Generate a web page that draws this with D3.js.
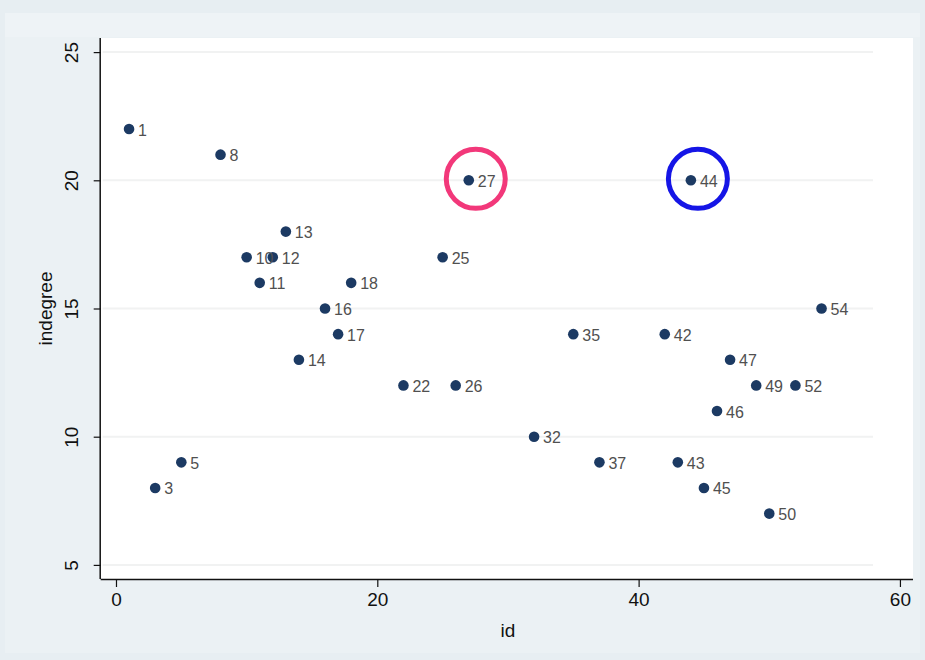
<!DOCTYPE html>
<html>
<head>
<meta charset="utf-8">
<script src="https://cdn.jsdelivr.net/npm/d3@7"></script>
<style>
  html, body { margin: 0; padding: 0; background: #e7eef2; }
  svg { display: block; }
</style>
</head>
<body>
<svg id="chart" width="925" height="660"></svg>
<script>
// Node ids and their in-degree
const ids      = [1, 8, 27, 44, 13, 10, 12, 25, 11, 18, 16, 54, 17, 35, 42, 14, 47, 22, 26, 49, 52, 46, 32, 5, 37, 43, 3, 45, 50];
const indegree = [22, 21, 20, 20, 18, 17, 17, 17, 16, 16, 15, 15, 14, 14, 14, 13, 13, 12, 12, 12, 12, 11, 10, 9, 9, 9, 8, 8, 7];
const xTicks = [0, 20, 40, 60];
const yTicks = [5, 10, 15, 20, 25];
// Nodes singled out with a ring
const ringIds    = [27, 44];
const ringColors = ["#f2387a", "#1515e6"];

const points = ids.map((id, i) => ({ id, v: indegree[i] }));

const svg = d3.select("#chart");
const W = 925, H = 660;
const plot = { left: 100.7, right: 913, top: 38, bottom: 579 };

// Outer graph region
svg.append("rect").attr("x", 0).attr("y", 0).attr("width", W).attr("height", H).attr("fill", "#e7eef2");
svg.append("rect").attr("x", 5).attr("y", 13).attr("width", 915).attr("height", 640).attr("fill", "#ebf1f4");
svg.append("rect").attr("x", 5).attr("y", 13).attr("width", 915).attr("height", 24).attr("fill", "#eef3f6");

const x = d3.scaleLinear().domain([-1.17, 61]).range([plot.left, plot.right]);
const y = d3.scaleLinear().domain([4.45, 25.55]).range([plot.bottom, plot.top]);

// Plot area
svg.append("rect")
  .attr("x", plot.left).attr("y", plot.top)
  .attr("width", plot.right - plot.left).attr("height", plot.bottom - plot.top)
  .attr("fill", "#ffffff");

// Faint horizontal gridlines
svg.append("g").selectAll("line").data(yTicks).join("line")
  .attr("x1", plot.left + 2).attr("x2", plot.right - 40)
  .attr("y1", d => y(d)).attr("y2", d => y(d))
  .attr("stroke", "#f1f2f2").attr("stroke-width", 2);

// Axes
const fontAxis = "'Liberation Sans', Arial, sans-serif";
const xAxis = svg.append("g")
  .attr("transform", `translate(0,${plot.bottom})`)
  .call(d3.axisBottom(x).tickValues(xTicks).tickSize(8).tickPadding(6).tickFormat(d3.format("d")));
xAxis.select(".domain").attr("stroke", "#111").attr("stroke-width", 1.5)
  .attr("d", `M${plot.left},0.5H${plot.right}`);
xAxis.selectAll(".tick line").attr("stroke", "#111").attr("stroke-width", 1.2);
xAxis.selectAll(".tick text").attr("font-family", fontAxis).attr("font-size", 19).attr("fill", "#111")
  .attr("dy", "0.71em");

const yAxis = svg.append("g")
  .attr("transform", `translate(${plot.left},0)`)
  .call(d3.axisLeft(y).tickValues(yTicks).tickSize(7).tickFormat(d3.format("d")));
yAxis.select(".domain").attr("stroke", "#111").attr("stroke-width", 1.5)
  .attr("d", `M-0.5,${plot.top}V${plot.bottom}`);
yAxis.selectAll(".tick line").attr("stroke", "#111").attr("stroke-width", 1.2);
yAxis.selectAll(".tick text")
  .attr("font-family", fontAxis).attr("font-size", 19).attr("fill", "#111")
  .attr("text-anchor", "middle").attr("x", 0).attr("dy", 0)
  .attr("transform", "translate(-29,0) rotate(-90)")
  .attr("dominant-baseline", "central");

// Axis titles
svg.append("text").attr("x", (x(0) + x(60)) / 2 + 0).attr("y", 637)
  .attr("text-anchor", "middle").attr("font-family", fontAxis).attr("font-size", 19).attr("fill", "#111")
  .text("id");
svg.append("text")
  .attr("transform", `translate(45,${y(15)}) rotate(-90)`)
  .attr("text-anchor", "middle").attr("font-family", fontAxis).attr("font-size", 19).attr("fill", "#111")
  .attr("dominant-baseline", "central")
  .text("indegree");

// Markers
svg.append("g").selectAll("circle").data(points).join("circle")
  .attr("cx", d => x(d.id)).attr("cy", d => y(d.v)).attr("r", 5.3)
  .attr("fill", "#1c3a63");

// Marker labels
svg.append("g").selectAll("text").data(points).join("text")
  .attr("x", d => x(d.id) + 9).attr("y", d => y(d.v) + 1)
  .attr("dominant-baseline", "central")
  .attr("font-family", fontAxis).attr("font-size", 16).attr("fill", "#505050")
  .text(d => d.id);

// Rings around highlighted nodes
const rings = ringIds.map((id, i) => ({ id, v: points.find(p => p.id === id).v, color: ringColors[i] }));
svg.append("g").selectAll("circle").data(rings).join("circle")
  .attr("cx", d => x(d.id) + 7).attr("cy", d => y(d.v) - 1.5).attr("r", 29.5)
  .attr("fill", "none").attr("stroke", d => d.color).attr("stroke-width", 5);
</script>
</body>
</html>
